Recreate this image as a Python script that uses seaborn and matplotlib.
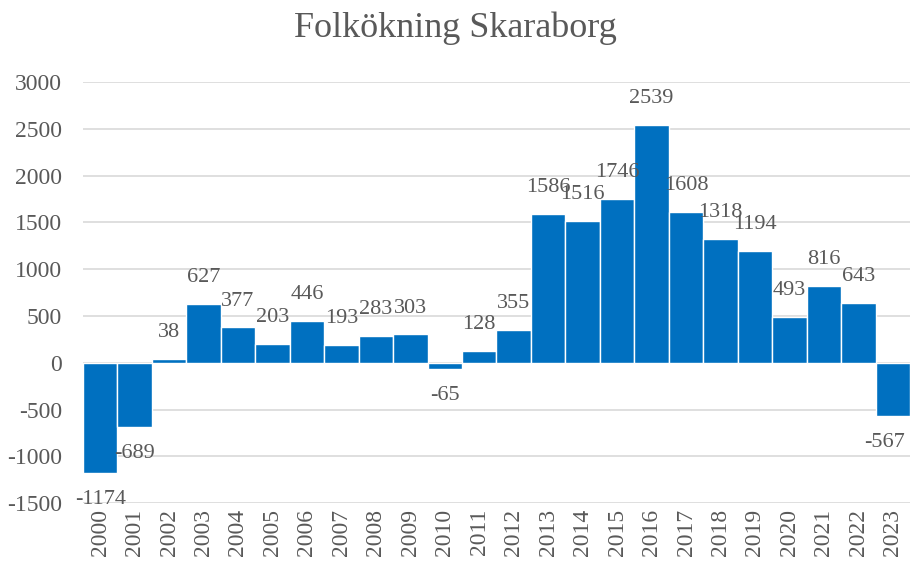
import numpy as np
import pandas as pd
import matplotlib
matplotlib.use("Agg")
import matplotlib.pyplot as plt
import seaborn as sns

# Data
years = [str(y) for y in range(2000, 2024)]
values = [-1174, -689, 38, 627, 377, 203, 446, 193, 283, 303, -65, 128,
          355, 1586, 1516, 1746, 2539, 1608, 1318, 1194, 493, 816, 643, -567]
yticks = [-1500, -1000, -500, 0, 500, 1000, 1500, 2000, 2500, 3000]

df = pd.DataFrame({'År': years, 'Folkökning': values})

sns.set_style("white")
plt.rcParams['font.family'] = ['Liberation Serif', 'DejaVu Serif']
text_color = '#595959'

fig, ax = plt.subplots(figsize=(9.11, 5.61), dpi=100)
fig.subplots_adjust(left=0.091, right=0.999, top=0.854, bottom=0.103)

sns.barplot(data=df, x='År', y='Folkökning', color='#0070C0', saturation=1,
            width=1.0, edgecolor='white', linewidth=1, ax=ax, zorder=3)

# Data labels above / below bars (last one nudged left so it fits the figure)
for i, v in enumerate(values):
    off = 19 if v >= 0 else -19
    dx = -6 if i == len(values) - 1 else 0
    ax.annotate(str(v), (i, v), xytext=(dx, off), textcoords='offset points',
                ha='center', va='center', fontsize=16, color=text_color, zorder=4)

ax.set_ylim(-1500, 3000)
ax.set_yticks(yticks)
ax.set_yticklabels([str(t) for t in yticks], fontsize=17, color=text_color)
ax.set_xlim(-0.5, len(years) - 0.5)
ax.set_xticks(range(len(years)))
ax.set_xticklabels(years, rotation=90, fontsize=17, color=text_color)
ax.tick_params(axis='y', length=0, pad=15)
ax.tick_params(axis='x', length=0, pad=4)
ax.yaxis.grid(True, color='#d9d9d9', linewidth=1.2, zorder=0)
ax.set_axisbelow(True)
ax.set_xlabel('')
ax.set_ylabel('')
for s in ax.spines.values():
    s.set_visible(False)

fig.suptitle('Folkökning Skaraborg', fontsize=26, color=text_color, y=0.98)

plt.savefig('out.png', dpi=100)
